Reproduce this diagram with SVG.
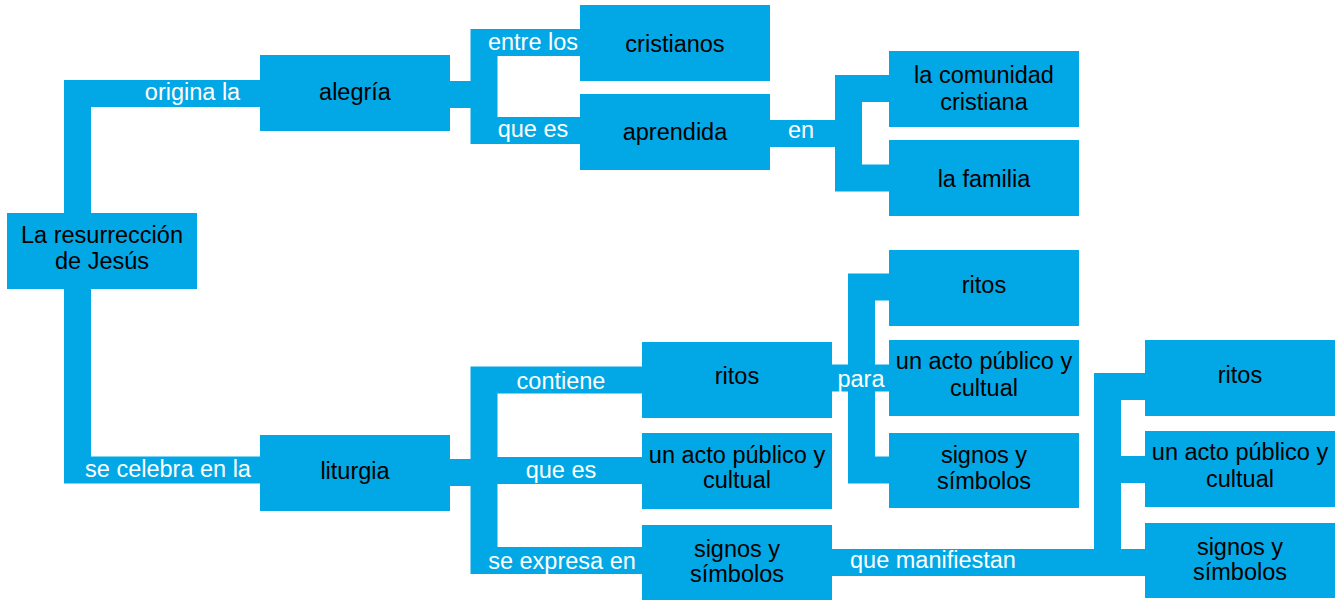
<svg xmlns="http://www.w3.org/2000/svg" width="1337" height="600" viewBox="0 0 1337 600">
<style>
.n{fill:#02A8E5}
.c{fill:none;stroke:#02A8E5;stroke-width:27;stroke-linejoin:miter;stroke-linecap:butt}
text{font-family:"Liberation Sans",Arial,Helvetica,sans-serif;font-size:23.5px;text-anchor:middle}
.t{fill:#000}
.l{fill:#fff}
</style>
<rect width="1337" height="600" fill="#fff"/>
<g id="connectors">
<path class="c" d="M77.5 213V93.5H260"/>
<path class="c" d="M77.5 289V470H260"/>
<path class="c" d="M450 94.5H484"/>
<path class="c" d="M580 42.5H484V130.5H580"/>
<path class="c" d="M770 133.5H848.5"/>
<path class="c" d="M889 88.5H848.5V178H889"/>
<path class="c" d="M450 472.5H484"/>
<path class="c" d="M642 380H484V560.5H642"/>
<path class="c" d="M484 470.5H642"/>
<path class="c" d="M832 378H889"/>
<path class="c" d="M889 287H861.5V470H889"/>
<path class="c" d="M832 562.5H1145"/>
<path class="c" d="M1145 386.5H1107.5V562.5"/>
<path class="c" d="M1107.5 469.5H1145"/>
<text class="l" x="192.5" y="100">origina la</text>
<text class="l" x="168" y="477">se celebra en la</text>
<text class="l" x="533" y="50">entre los</text>
<text class="l" x="533" y="137">que es</text>
<text class="l" x="801" y="138">en</text>
<text class="l" x="561" y="389">contiene</text>
<text class="l" x="561" y="478">que es</text>
<text class="l" x="562" y="569">se expresa en</text>
<text class="l" x="861" y="387">para</text>
<text class="l" x="933" y="568">que manifiestan</text>
</g>
<g id="root"><rect class="n" x="7" y="213" width="190" height="76"/><text class="t" x="102" y="243">La resurrección</text><text class="t" x="102" y="269">de Jesús</text></g>
<g id="alegria"><rect class="n" x="260" y="55" width="190" height="76"/><text class="t" x="355" y="100">alegría</text></g>
<g id="liturgia"><rect class="n" x="260" y="435" width="190" height="76"/><text class="t" x="355" y="479">liturgia</text></g>
<g id="cristianos"><rect class="n" x="580" y="5" width="190" height="76"/><text class="t" x="675" y="52">cristianos</text></g>
<g id="aprendida"><rect class="n" x="580" y="94" width="190" height="76"/><text class="t" x="675" y="140">aprendida</text></g>
<g id="comunidad"><rect class="n" x="889" y="51" width="190" height="76"/><text class="t" x="984" y="83">la comunidad</text><text class="t" x="984" y="110">cristiana</text></g>
<g id="familia"><rect class="n" x="889" y="140" width="190" height="76"/><text class="t" x="984" y="187">la familia</text></g>
<g id="ritos1"><rect class="n" x="642" y="342" width="190" height="76"/><text class="t" x="737" y="384">ritos</text></g>
<g id="acto1"><rect class="n" x="642" y="433" width="190" height="76"/><text class="t" x="737" y="463">un acto público y</text><text class="t" x="737" y="488">cultual</text></g>
<g id="signos1"><rect class="n" x="642" y="525" width="190" height="75"/><text class="t" x="737" y="557">signos y</text><text class="t" x="737" y="582">símbolos</text></g>
<g id="ritos2"><rect class="n" x="889" y="250" width="190" height="76"/><text class="t" x="984" y="293">ritos</text></g>
<g id="acto2"><rect class="n" x="889" y="340" width="190" height="76"/><text class="t" x="984" y="369">un acto público y</text><text class="t" x="984" y="396">cultual</text></g>
<g id="signos2"><rect class="n" x="889" y="433" width="190" height="75"/><text class="t" x="984" y="463">signos y</text><text class="t" x="984" y="489">símbolos</text></g>
<g id="ritos3"><rect class="n" x="1145" y="340" width="190" height="76"/><text class="t" x="1240" y="383">ritos</text></g>
<g id="acto3"><rect class="n" x="1145" y="431" width="190" height="76"/><text class="t" x="1240" y="460">un acto público y</text><text class="t" x="1240" y="487">cultual</text></g>
<g id="signos3"><rect class="n" x="1145" y="523" width="190" height="75"/><text class="t" x="1240" y="555">signos y</text><text class="t" x="1240" y="580">símbolos</text></g>
</svg>
